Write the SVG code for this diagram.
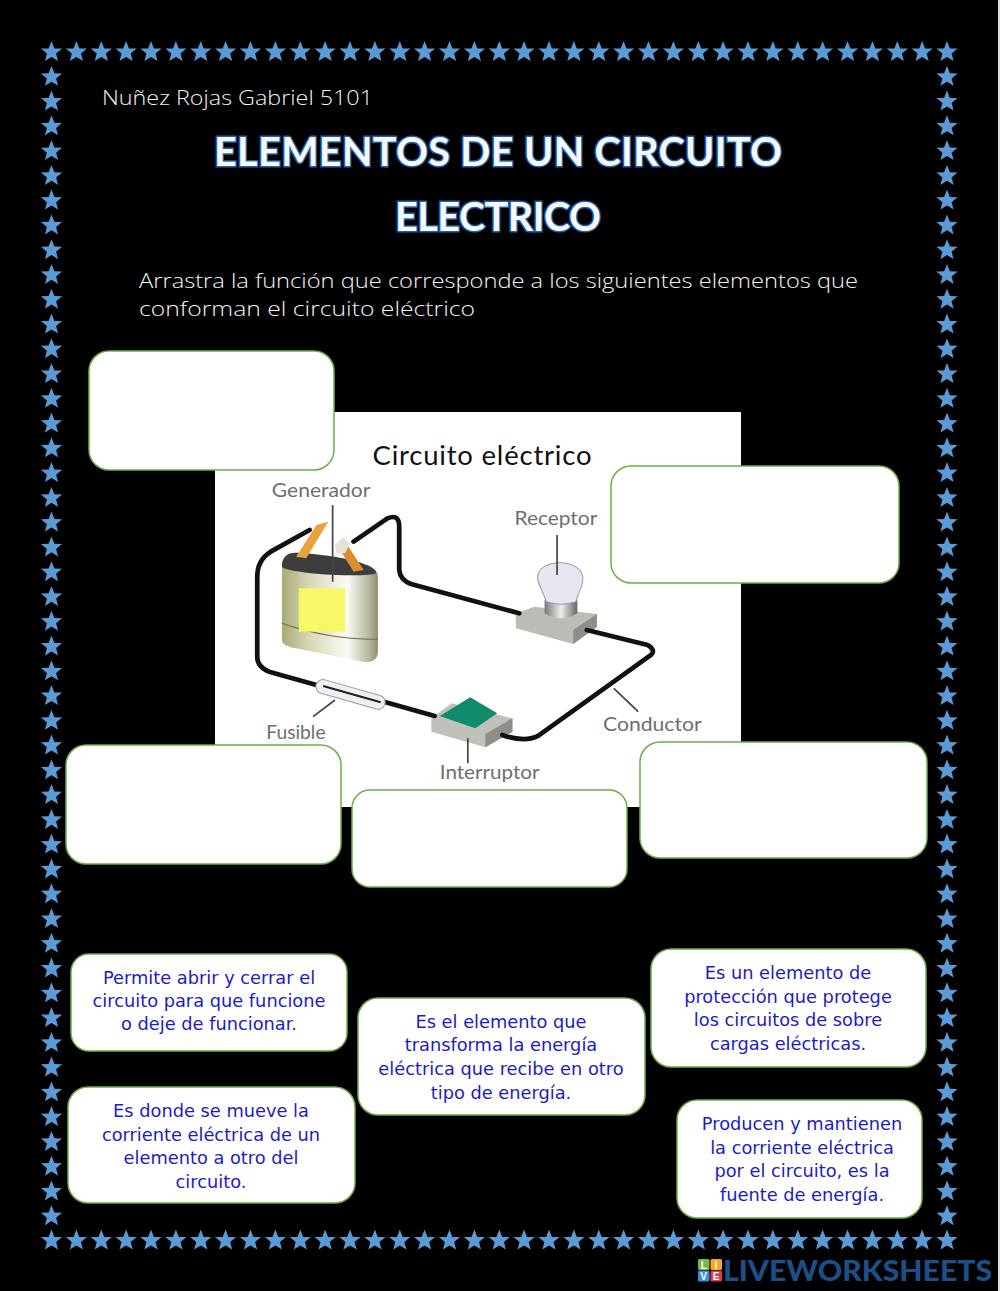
<svg xmlns="http://www.w3.org/2000/svg" width="1000" height="1291" viewBox="0 0 1000 1291">
<style>
.box{fill:#fff;stroke:#70ad47;stroke-width:1.5}
.t{font-family:"DejaVu Sans","Liberation Sans",sans-serif;font-size:17.8px;fill:#1c1cc4;text-anchor:middle;transform:translateY(1px)}
.hand{font-family:"Open Sans","DejaVu Sans",sans-serif;font-weight:300;fill:#f4f4f4}
.title{font-family:Lato,"Open Sans",sans-serif;font-weight:700;font-size:39.5px;fill:#f6f9ff;stroke:#1f5fa8;stroke-width:3;paint-order:stroke;text-anchor:middle}
.lab{font-family:Lato,"Liberation Sans",sans-serif;font-size:56px;fill:#6e6e6e}
.wire{fill:none;stroke:#111;stroke-width:14;stroke-linecap:round;stroke-linejoin:round}
.lead{fill:none;stroke:#444;stroke-width:5}
.tile{font-family:"Liberation Sans",sans-serif;font-weight:700;font-size:10px;fill:#fff;text-anchor:middle}
</style>
<defs>
<polygon id="s" fill="#5b9bd5" points="0,-11 2.9,-3.6 10.6,-3.4 4.6,1.6 6.6,9 0,4.9 -6.6,9 -4.6,1.6 -10.6,-3.4 -2.9,-3.6"/>
<g id="row">
<use href="#s" x="51.5"/><use href="#s" x="76.4"/><use href="#s" x="101.3"/><use href="#s" x="126.1"/><use href="#s" x="151"/><use href="#s" x="175.9"/><use href="#s" x="200.8"/><use href="#s" x="225.6"/><use href="#s" x="250.5"/><use href="#s" x="275.4"/><use href="#s" x="300.3"/><use href="#s" x="325.1"/><use href="#s" x="350"/><use href="#s" x="374.9"/><use href="#s" x="399.8"/><use href="#s" x="424.6"/><use href="#s" x="449.5"/><use href="#s" x="474.4"/><use href="#s" x="499.3"/><use href="#s" x="524.1"/><use href="#s" x="549"/><use href="#s" x="573.9"/><use href="#s" x="598.8"/><use href="#s" x="623.6"/><use href="#s" x="648.5"/><use href="#s" x="673.4"/><use href="#s" x="698.3"/><use href="#s" x="723.1"/><use href="#s" x="748"/><use href="#s" x="772.9"/><use href="#s" x="797.8"/><use href="#s" x="822.6"/><use href="#s" x="847.5"/><use href="#s" x="872.4"/><use href="#s" x="897.3"/><use href="#s" x="922.1"/><use href="#s" x="947"/>
</g>
<g id="col">
<use href="#s" y="76.8"/><use href="#s" y="101.5"/><use href="#s" y="126.3"/><use href="#s" y="151.1"/><use href="#s" y="175.9"/><use href="#s" y="200.6"/><use href="#s" y="225.4"/><use href="#s" y="250.2"/><use href="#s" y="274.9"/><use href="#s" y="299.7"/><use href="#s" y="324.5"/><use href="#s" y="349.2"/><use href="#s" y="374"/><use href="#s" y="398.8"/><use href="#s" y="423.6"/><use href="#s" y="448.3"/><use href="#s" y="473.1"/><use href="#s" y="497.9"/><use href="#s" y="522.6"/><use href="#s" y="547.4"/><use href="#s" y="572.2"/><use href="#s" y="596.9"/><use href="#s" y="621.7"/><use href="#s" y="646.5"/><use href="#s" y="671.3"/><use href="#s" y="696"/><use href="#s" y="720.8"/><use href="#s" y="745.6"/><use href="#s" y="770.3"/><use href="#s" y="795.1"/><use href="#s" y="819.9"/><use href="#s" y="844.6"/><use href="#s" y="869.4"/><use href="#s" y="894.2"/><use href="#s" y="919"/><use href="#s" y="943.7"/><use href="#s" y="968.5"/><use href="#s" y="993.3"/><use href="#s" y="1018"/><use href="#s" y="1042.8"/><use href="#s" y="1067.6"/><use href="#s" y="1092.3"/><use href="#s" y="1117.1"/><use href="#s" y="1141.9"/><use href="#s" y="1166.7"/><use href="#s" y="1191.4"/><use href="#s" y="1216.2"/>
</g>
<linearGradient id="bat" x1="0" x2="1" y1="0" y2="0"><stop offset="0" stop-color="#a9ab78"/><stop offset=".3" stop-color="#d8d9b8"/><stop offset=".68" stop-color="#fbfbf5"/><stop offset=".9" stop-color="#b9b9a0"/><stop offset="1" stop-color="#8f9070"/></linearGradient>
<linearGradient id="cyl" x1="0" x2="1" y1="0" y2="0"><stop offset="0" stop-color="#777"/><stop offset=".5" stop-color="#eee"/><stop offset="1" stop-color="#666"/></linearGradient>
</defs>
<rect width="1000" height="1291" fill="#000"/>
<rect x="998" width="2" height="1291" fill="#ddd"/>
<g id="border">
<use href="#row" y="52"/><use href="#row" y="1240.5"/>
<use href="#col" x="51.5"/><use href="#col" x="947"/>
</g>
<text class="hand" x="102" y="105" font-size="20" textLength="271" lengthAdjust="spacingAndGlyphs">Nuñez Rojas Gabriel 5101</text>
<text class="title" x="498" y="166" textLength="568">ELEMENTOS DE UN CIRCUITO</text>
<text class="title" x="498" y="231" textLength="206">ELECTRICO</text>
<text class="hand" x="139" y="288" font-size="21" textLength="719" lengthAdjust="spacingAndGlyphs">Arrastra la función que corresponde a los siguientes elementos que</text>
<text class="hand" x="139" y="316" font-size="21" textLength="336" lengthAdjust="spacingAndGlyphs">conforman el circuito eléctrico</text>

<g id="circuit-image">
<rect x="215" y="412" width="526" height="395" fill="#fff"/>
<text x="482" y="465" font-family="Lato,'Open Sans',sans-serif" font-size="27.5" fill="#111" text-anchor="middle" textLength="219">Circuito eléctrico</text>
<g transform="translate(215 410) scale(.338 .3333)">
<g id="generador">
<path d="M198 470Q198 428 240 428L440 462Q482 470 482 505L482 725Q482 758 440 756L240 715Q198 708 198 690Z" fill="url(#bat)"/>
<path d="M198 470Q198 428 240 428C300 430 470 450 478 490C440 505 210 490 198 470Z" fill="#3d3d3d"/>
<path d="M198 640Q340 690 482 688" fill="none" stroke="#6a6b4e" stroke-width="3"/>
<rect x="248" y="535" width="137" height="130" fill="#f7f76a"/>
<path d="M240 440L300 345L335 335L270 445Z" fill="#e8a33c"/>
<path d="M395 410L440 480L410 485L370 420Z" fill="#d98f30"/>
<path d="M355 405L380 380L400 400L385 430L360 430Z" fill="#e6e2d6"/>
</g>
<g id="receptor">
<path d="M890 610L945 590L1130 612L1130 650L1060 702L890 655Z" fill="#bcbcb6"/>
<path d="M1060 660L1130 612L1130 650L1060 702Z" fill="#8f8f8a"/>
<path d="M975 570H1072V610Q1024 640 975 610Z" fill="url(#cyl)"/>
<path d="M980 575C970 540 950 520 955 495C965 445 1080 445 1088 500C1092 525 1075 545 1068 575Q1024 590 980 575Z" fill="#e6e6f0" stroke="#9a9aa8" stroke-width="3"/>
</g>
<g id="interruptor">
<path d="M640 925L700 880L880 925L880 965L800 1012L640 965Z" fill="#c0c0ba"/>
<path d="M800 972L880 925L880 965L800 1012Z" fill="#8f8f8a"/>
<path d="M665 918L755 862L835 910L770 955Z" fill="#0f8a6a"/>
</g>
<g id="connectors">
<path class="wire" d="M410 395L510 325Q545 310 545 350L545 480Q548 510 580 522L900 610"/>
<path class="wire" d="M280 360L165 425Q125 450 125 500L125 740Q125 770 160 785L300 825"/>
<path class="wire" d="M500 875L650 918"/>
<path class="wire" d="M850 975Q920 1000 960 975L1290 735Q1305 720 1280 705L1100 660"/>
</g>
<g id="fusible">
<rect x="295" y="832" width="212" height="42" rx="21" transform="rotate(16 400 853)" fill="#eef0f4" stroke="#9a9aa4" stroke-width="3"/>
<path d="M320 828L490 877" stroke="#222" stroke-width="6"/>
</g>
<path class="lead" d="M348 285V515M1012 375V495M355 870L290 920M1180 835L1252 905M748 985V1060"/>
<text class="lab" x="168" y="260" textLength="292" lengthAdjust="spacingAndGlyphs">Generador</text>
<text class="lab" x="886" y="346" textLength="245" lengthAdjust="spacingAndGlyphs">Receptor</text>
<text class="lab" x="152" y="987" textLength="175" lengthAdjust="spacingAndGlyphs">Fusible</text>
<text class="lab" x="1148" y="962" textLength="292" lengthAdjust="spacingAndGlyphs">Conductor</text>
<text class="lab" x="665" y="1107" textLength="295" lengthAdjust="spacingAndGlyphs">Interruptor</text>
</g>
</g>

<g id="drop-1"><rect class="box" x="89" y="351" width="245" height="119" rx="20"/></g>
<g id="drop-2"><rect class="box" x="611" y="466" width="288" height="117" rx="20"/></g>
<g id="drop-3"><rect class="box" x="66" y="745" width="275" height="119" rx="20"/></g>
<g id="drop-4"><rect class="box" x="352" y="790" width="275" height="97" rx="18"/></g>
<g id="drop-5"><rect class="box" x="640" y="742" width="287" height="116" rx="20"/></g>

<g id="opt-interruptor"><rect class="box" x="71" y="954" width="276" height="97" rx="18"/>
<text class="t" x="209" y="983">Permite abrir y cerrar el</text><text class="t" x="209" y="1006">circuito para que funcione</text><text class="t" x="209" y="1029">o deje de funcionar.</text></g>
<g id="opt-conductor"><rect class="box" x="68" y="1087" width="287" height="116" rx="20"/>
<text class="t" x="211" y="1116">Es donde se mueve la</text><text class="t" x="211" y="1140">corriente eléctrica de un</text><text class="t" x="211" y="1163">elemento a otro del</text><text class="t" x="211" y="1187">circuito.</text></g>
<g id="opt-receptor"><rect class="box" x="358" y="998" width="287" height="117" rx="20"/>
<text class="t" x="501" y="1027">Es el elemento que</text><text class="t" x="501" y="1050">transforma la energía</text><text class="t" x="501" y="1074">eléctrica que recibe en otro</text><text class="t" x="501" y="1098">tipo de energía.</text></g>
<g id="opt-fusible"><rect class="box" x="651" y="949" width="275" height="118" rx="20"/>
<text class="t" x="788" y="978">Es un elemento de</text><text class="t" x="788" y="1002">protección que protege</text><text class="t" x="788" y="1025">los circuitos de sobre</text><text class="t" x="788" y="1049">cargas eléctricas.</text></g>
<g id="opt-generador"><rect class="box" x="677" y="1100" width="245" height="118" rx="20"/>
<text class="t" x="802" y="1129">Producen y mantienen</text><text class="t" x="802" y="1153">la corriente eléctrica</text><text class="t" x="802" y="1176">por el circuito, es la</text><text class="t" x="802" y="1200">fuente de energía.</text></g>

<g id="logo">
<rect x="698" y="1259" width="11.5" height="11" rx="1.5" fill="#7ab648"/><rect x="710.5" y="1259" width="11.5" height="11" rx="1.5" fill="#f5a623"/>
<rect x="698" y="1270.5" width="11.5" height="11" rx="1.5" fill="#3a8dde"/><rect x="710.5" y="1270.5" width="11.5" height="11" rx="1.5" fill="#e5384f"/>
<text class="tile" x="703.7" y="1268.5">L</text><text class="tile" x="716.2" y="1268.5">I</text><text class="tile" x="703.7" y="1280">V</text><text class="tile" x="716.2" y="1280">E</text>
<text x="723" y="1281" font-family="Lato,'Liberation Sans',sans-serif" font-weight="900" font-size="29" fill="#1b4f86" textLength="269" lengthAdjust="spacingAndGlyphs">LIVEWORKSHEETS</text>
</g>
</svg>
